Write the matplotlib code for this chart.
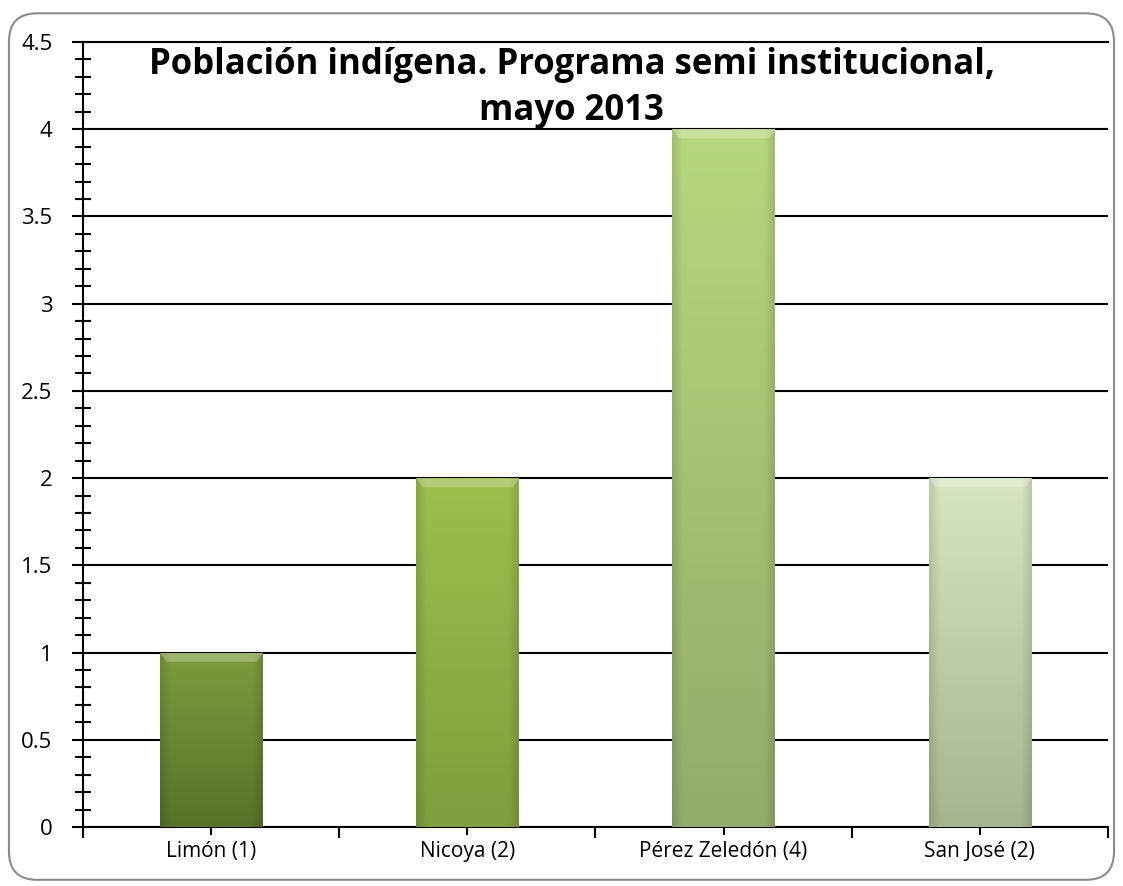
import matplotlib.pyplot as plt
import matplotlib.colors as mcolors
from matplotlib.patches import FancyBboxPatch
from matplotlib.ticker import MultipleLocator, FixedLocator, FuncFormatter, NullFormatter
import numpy as np

plt.rcParams['font.family'] = ['Open Sans', 'DejaVu Sans']

# datos
categorias = ['Limón (1)', 'Nicoya (2)', 'Pérez Zeledón (4)', 'San José (2)']
valores = [1, 2, 4, 2]
titulo = 'Población indígena. Programa semi institucional,\nmayo 2013'

# colores de las barras (arriba, abajo)
colores = [('#7e9c3c', '#56732a'),
           ('#9dbf4c', '#7f9e3c'),
           ('#b6d87c', '#93ab6a'),
           ('#d8e6bf', '#a6b58e')]

fig = plt.figure(figsize=(11.23, 8.86), dpi=100)
ax = fig.add_axes([0.0739, 0.0666, 0.9127, 0.886])

# marco redondeado
marco = FancyBboxPatch((0.008, 0.007), 0.984, 0.978, boxstyle='round,pad=0,rounding_size=0.025',
                       transform=fig.transFigure, facecolor='none', edgecolor='#8c8c8c',
                       linewidth=1.5, mutation_aspect=1123 / 886)
fig.patches.append(marco)

x = np.arange(len(categorias))
barras = ax.bar(x, valores, width=0.4, color='none', edgecolor='none', zorder=3)

# relleno con degradado dentro de cada barra
for b, (c1, c2) in zip(barras, colores):
    a = np.array(mcolors.to_rgb(c1))
    z = np.array(mcolors.to_rgb(c2))
    t = np.linspace(0, 1, 200)[:, None]
    img = a[None, None, :] * (1 - t[..., None]) + z[None, None, :] * t[..., None]
    img = np.repeat(img, 60, axis=1)
    u = np.linspace(-1, 1, 60)
    sombra = 1 - 0.12 * np.clip((np.abs(u) - 0.8) / 0.2, 0, 1)
    img = img * sombra[None, :, None]
    x0, y0 = b.get_x(), b.get_y()
    w, h = b.get_width(), b.get_height()
    im = ax.imshow(np.clip(img, 0, 1), extent=(x0, x0 + w, y0, y0 + h), aspect='auto',
                   origin='upper', zorder=3)
    im.set_clip_path(b)
    # bisel superior
    ax.fill_between([x0, x0 + w * 0.06, x0 + w * 0.94, x0 + w],
                    [y0 + h] * 4,
                    [y0 + h, y0 + h - 0.05, y0 + h - 0.05, y0 + h],
                    color='white', alpha=0.25, linewidth=0, zorder=4)

ax.set_xlim(-0.5, len(categorias) - 0.5)
ax.set_ylim(0, 4.5)

ax.yaxis.set_major_locator(MultipleLocator(0.5))
ax.yaxis.set_minor_locator(MultipleLocator(0.1))
ax.yaxis.set_major_formatter(FuncFormatter(lambda v, p: '%g' % v))
ax.tick_params(axis='y', which='major', direction='out', length=8, width=1.5, pad=14, labelsize=16)
ax.tick_params(axis='y', which='minor', direction='inout', length=12, width=1.5)

ax.xaxis.set_major_locator(FixedLocator(np.arange(-0.5, len(categorias), 1.0)))
ax.xaxis.set_minor_locator(FixedLocator(x))
ax.xaxis.set_major_formatter(NullFormatter())
ax.set_xticklabels(categorias, minor=True)
ax.tick_params(axis='x', which='major', direction='out', length=8, width=1.5)
ax.tick_params(axis='x', which='minor', direction='inout', length=12, width=1.5, pad=4, labelsize=15)

ax.yaxis.grid(True, color='black', linewidth=1.5, zorder=0)
ax.set_axisbelow(True)
ax.spines['right'].set_visible(False)
ax.spines['top'].set_linewidth(1.5)
ax.spines['left'].set_linewidth(1.5)
ax.spines['bottom'].set_linewidth(1.5)

fig.text(0.509, 0.947, titulo, ha='center', va='top', fontsize=25, fontweight='bold',
         linespacing=1.38)

fig.savefig('out.png', dpi=100)
